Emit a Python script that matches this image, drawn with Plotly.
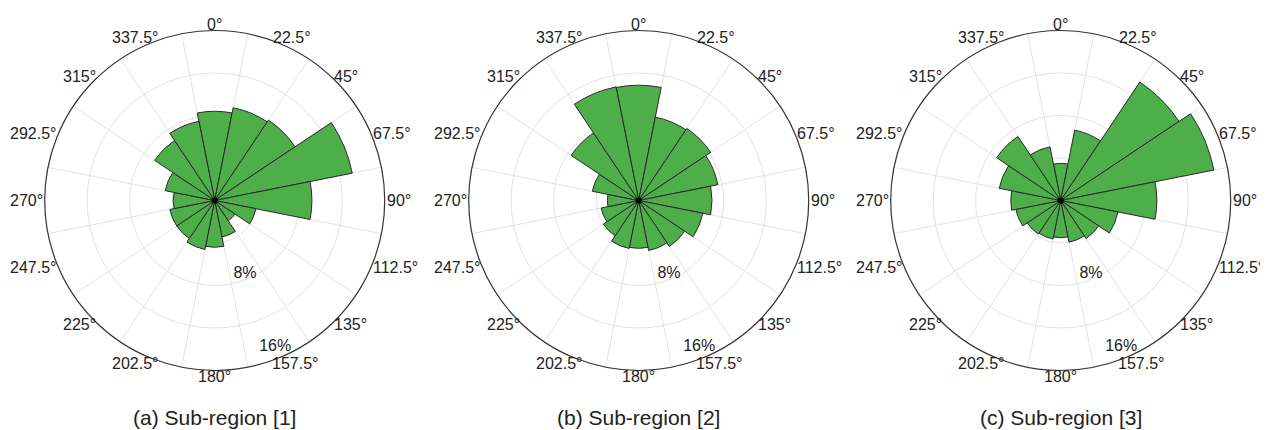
import math
import plotly.graph_objects as go

# ---------------- data ----------------
directions = [0, 22.5, 45, 67.5, 90, 112.5, 135, 157.5, 180, 202.5, 225, 247.5, 270, 292.5, 315, 337.5]
direction_labels = ["0°", "22.5°", "45°", "67.5°", "90°", "112.5°", "135°", "157.5°",
                    "180°", "202.5°", "225°", "247.5°", "270°", "292.5°", "315°", "337.5°"]
bin_edges = [11.25, 33.75, 56.25, 78.75, 101.25, 123.75, 146.25, 168.75,
             191.25, 213.75, 236.25, 258.75, 281.25, 303.75, 326.25, 348.75]
region1 = [8.4, 8.9, 9.1, 13.2, 9.15, 3.95, 2.3, 3.5, 4.4, 4.7, 4.3, 4.3, 3.9, 4.75, 6.8, 7.6]
region2 = [10.85, 8.0, 8.15, 7.6, 6.9, 6.15, 5.2, 4.8, 4.5, 4.6, 4.0, 3.6, 2.95, 4.45, 7.65, 10.9]
region3 = [3.5, 6.75, 13.4, 14.7, 9.05, 5.5, 4.3, 4.0, 3.5, 3.7, 3.8, 4.3, 4.7, 5.9, 7.25, 5.15]
titles = ["(a) Sub-region [1]", "(b) Sub-region [2]", "(c) Sub-region [3]"]
r_ticks = [4, 8, 12, 16]
r_label_vals = [8, 16]
r_label_text = ["8%", "16%"]
r_max = 16

# ---------------- layout helpers ----------------
# the page body has an 8px margin, so the figure is 8px smaller and page px are shifted by 8
OFF = 8
W, H = 1268 - OFF, 430 - OFF
centers_px = [214.7 - OFF, 638.7 - OFF, 1060.7 - OFF]
cy_px = 200.5 - OFF
R_px = 170
FONT = "Liberation Sans, Arial, Helvetica, sans-serif"
TICK_SIZE = 16
GREEN = "#4dae4a"
GRID = "#e3e3e3"
TXT = "#222"

ADV = {".": 0.278, "°": 0.4, "%": 0.889}


def text_width(s, size):
    return sum(ADV.get(c, 0.556) for c in s) * size


# angular label placement: anchor just outside the circle, text pushed outward
R_ANCHOR = 172
HALF_H = 4


def label_offset(th, lab):
    a = math.radians(th)
    s, c = math.sin(a), math.cos(a)
    w = text_width(lab, TICK_SIZE)
    dx = R_ANCHOR * s + math.copysign(math.sqrt(abs(s)), s) * w / 2
    dy = -R_ANCHOR * c - c * HALF_H
    return dx, dy


fig = go.Figure()
layout = dict(
    width=W, height=H, margin=dict(l=0, r=0, t=0, b=0),
    paper_bgcolor="white", plot_bgcolor="white", showlegend=False,
    font=dict(family=FONT, size=TICK_SIZE, color=TXT),
    annotations=[],
)

series = [region1, region2, region3]
for i, (vals, cx) in enumerate(zip(series, centers_px)):
    dom = dict(x=[(cx - R_px) / W, (cx + R_px) / W],
               y=[(H - cy_px - R_px) / H, (H - cy_px + R_px) / H])
    sp = f"polar{i + 1}" if i > 0 else "polar"
    fig.add_trace(go.Barpolar(
        r=vals, theta=directions, width=[22.5] * len(directions),
        marker=dict(color=GREEN, line=dict(color="#2b2b2b", width=1)),
        subplot=sp, hoverinfo="skip",
    ))
    fig.add_trace(go.Scatterpolar(
        r=[0], theta=[0], mode="markers",
        marker=dict(color="black", size=6), subplot=sp, hoverinfo="skip",
    ))
    # radial tick labels along the 157.5 deg ray
    fig.add_trace(go.Scatterpolar(
        r=[v * 0.93 for v in r_label_vals], theta=[157.5] * len(r_label_vals),
        mode="text", text=r_label_text, textposition="middle center", cliponaxis=False,
        textfont=dict(size=TICK_SIZE, color=TXT, family=FONT),
        subplot=sp, hoverinfo="skip",
    ))
    layout[sp] = dict(
        domain=dom, bgcolor="white", hole=0,
        angularaxis=dict(direction="clockwise", rotation=90, tickmode="array",
                         tickvals=bin_edges, showticklabels=False, ticks="",
                         showgrid=True, gridcolor=GRID, gridwidth=1,
                         showline=True, linecolor="#333", linewidth=1.2),
        radialaxis=dict(range=[0, r_max], tickmode="array", tickvals=r_ticks,
                        showticklabels=False, showgrid=True, gridcolor=GRID, gridwidth=1,
                        showline=False, ticks=""),
    )
    # angular tick labels at the bin centres, just outside the circle
    for th, lab in zip(directions, direction_labels):
        dx, dy = label_offset(th, lab)
        px, py = cx + dx, cy_px + dy
        layout["annotations"].append(dict(
            text=lab, x=px / W, y=(H - py) / H, xref="paper", yref="paper",
            xanchor="center", yanchor="middle", showarrow=False, borderpad=0,
            font=dict(size=TICK_SIZE, color=TXT, family=FONT),
        ))
    layout["annotations"].append(dict(
        text=titles[i], x=cx / W, y=(H - (417 - OFF)) / H, xref="paper", yref="paper",
        xanchor="center", yanchor="middle", showarrow=False,
        font=dict(size=21, color=TXT, family=FONT),
    ))

fig.update_layout(**layout)
fig.write_html("out.html")
